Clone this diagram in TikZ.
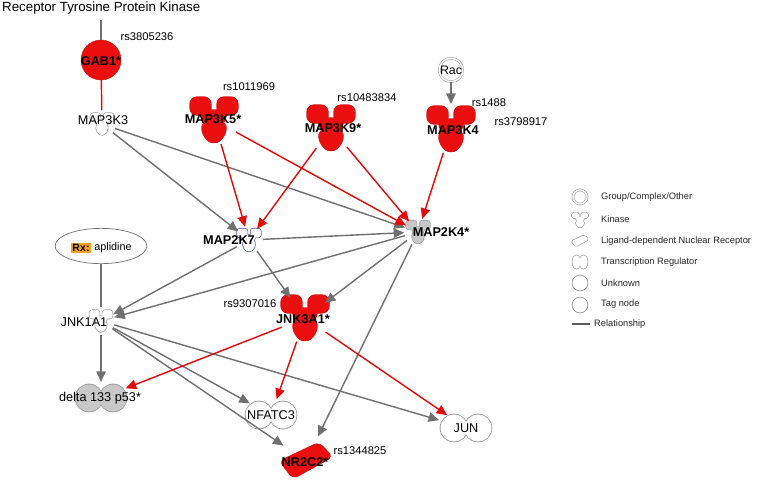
\documentclass[tikz,border=0pt]{standalone}
\usepackage{fontspec}
\setmainfont{Liberation Sans}
\usetikzlibrary{arrows.meta,shapes.geometric}

\definecolor{ipared}{RGB}{234,14,14}
\definecolor{ipadkred}{RGB}{205,20,20}
\definecolor{edgegray}{RGB}{112,112,112}
\definecolor{edgered}{RGB}{228,10,10}
\definecolor{nodegray}{RGB}{200,200,200}
\definecolor{linegray}{RGB}{150,150,150}
\definecolor{rxorange}{RGB}{247,160,30}
\definecolor{kinblue}{RGB}{70,80,160}

\tikzset{
  pics/kinase/.style n args={3}{code={
    \path[draw=#2, line width=1.1pt, rounded corners=#3]
      (-24,-23) rectangle (-3,-5) (3,-23) rectangle (24,-5)
      (-14,-10) -- (-8,8) -- (8,8) -- (14,-10) -- cycle
      (-13,2) -- (-11,17) -- (0,25) -- (11,17) -- (13,2) -- cycle;
    \path[fill=#1, rounded corners=#3]
      (-24,-23) rectangle (-3,-5) (3,-23) rectangle (24,-5)
      (-14,-10) -- (-8,8) -- (8,8) -- (14,-10) -- cycle
      (-13,2) -- (-11,17) -- (0,25) -- (11,17) -- (13,2) -- cycle;
  }},
  pics/regulator/.style n args={3}{code={
    \path[draw=#2, line width=#3] (-12,0) circle[radius=13.5] (12,0) circle[radius=13.5];
    \path[fill=#1] (-12,0) circle[radius=13.5] (12,0) circle[radius=13.5];
  }},
  pics/receptor/.style n args={3}{code={
    \path[fill=#1, draw=#2, rounded corners=#3]
      (-27,0) -- (13,-19) -- (27,-4) -- (-13,18) -- cycle;
  }},
  bigkin/.style={circle, minimum size=42pt, inner sep=0pt},
  smallkin/.style={circle, minimum size=23pt, inner sep=0pt},
  tfac/.style={ellipse, minimum width=52pt, minimum height=27pt, inner sep=0pt},
  gname/.style={font=\fontsize{10.8}{12}\selectfont, inner sep=0pt},
  bname/.style={font=\fontsize{10.8}{12}\selectfont\bfseries, inner sep=0pt},
  snp/.style={font=\fontsize{9.5}{11}\selectfont, inner sep=0pt},
  legtext/.style={font=\fontsize{7.9}{9}\selectfont, anchor=west, inner sep=0pt, text=black!85},
  legicon/.style={circle, draw=linegray, line width=0.6pt, minimum size=13.5pt, inner sep=0pt},
  act/.style={draw=edgegray, line width=1.2pt, -{Triangle[length=9pt,width=8pt]}},
  redact/.style={act, draw=edgered},
}

\begin{document}
\begin{tikzpicture}[x=0.85pt, y=-0.85pt]
\useasboundingbox (0,0) rectangle (766,484);

% upstream part
\node[anchor=west, font=\fontsize{11.3}{13}\selectfont, inner sep=0pt] (rtk) at (2,8) {Receptor Tyrosine Protein Kinase};
\coordinate (rtk-end) at (101,20);
\node[circle, fill=ipared, draw=ipadkred, minimum size=34pt, inner sep=0pt] (gab1) at (101,60) {};
\node[bname] (gab1-t) at (101,61) {GAB1*};
\node[snp] (gab1-s) at (147,37) {rs3805236};

\node[smallkin] (map3k3) at (102,124) {};
\pic[scale=0.48] at (map3k3) {kinase={white}{linegray}{2.5pt}};
\node[gname] (map3k3-t) at (103,120) {MAP3K3};

\node[bigkin] (map3k5) at (214,120) {};
\pic at (map3k5) {kinase={ipared}{ipadkred}{6pt}};
\node[bname] (map3k5-t) at (213,119) {MAP3K5*};
\node[snp] (map3k5-s) at (249,87) {rs1011969};

\node[bigkin] (map3k9) at (331,128) {};
\pic at (map3k9) {kinase={ipared}{ipadkred}{6pt}};
\node[bname] (map3k9-t) at (333,128) {MAP3K9*};
\node[snp] (map3k9-s) at (367,98) {rs10483834};

\node[circle, draw=linegray, double, double distance=1.3pt, minimum size=19pt, inner sep=0pt,
      font=\fontsize{10.5}{12}\selectfont] (rac) at (451,70) {Rac};

\node[bigkin] (map3k4) at (451,129) {};
\pic at (map3k4) {kinase={ipared}{ipadkred}{6pt}};
\node[bname] (map3k4-t) at (453,130) {MAP3K4};
\node[snp] (map3k4-s1) at (489,103) {rs1488};
\node[snp] (map3k4-s2) at (521,122) {rs3798917};

% MAP2K level
\node[smallkin] (map2k7) at (249,240) {};
\pic[scale=0.5] at (map2k7) {kinase={white}{kinblue}{2.5pt}};
\node[bname] (map2k7-t) at (229,240) {MAP2K7};

\node[smallkin] (map2k4) at (418,232) {};
\pic[scale=0.5] at (map2k4) {kinase={nodegray}{linegray}{2.5pt}};
\node[bname] (map2k4-t) at (441,232) {MAP2K4*};

% drug
\node[ellipse, draw=edgegray, line width=0.6pt, minimum width=78pt, minimum height=30pt, inner sep=0pt] (aplid) at (101,246) {};
\node[fill=rxorange, font=\fontsize{9}{10}\selectfont\bfseries, inner sep=1.2pt] (rx) at (81,248) {Rx:};
\node[font=\fontsize{9.2}{10}\selectfont, inner sep=0pt] (aplid-t) at (113,248) {aplidine};

% JNK level
\node[smallkin] (jnk1a1) at (101,321) {};
\pic[scale=0.48] at (jnk1a1) {kinase={white}{linegray}{2.5pt}};
\node[gname] (jnk1a1-t) at (84,322) {JNK1A1};

\node[bigkin] (jnk3a1) at (305,318) {};
\pic at (jnk3a1) {kinase={ipared}{ipadkred}{6pt}};
\node[bname] (jnk3a1-t) at (303,319) {JNK3A1*};
\node[snp] (jnk3a1-s) at (250,304) {rs9307016};

% targets
\node[tfac] (delta) at (101,398) {};
\pic at (delta) {regulator={nodegray}{linegray}{1.4pt}};
\node[gname] (delta-t) at (100,398) {delta 133 p53*};

\node[tfac] (nfatc3) at (271,415) {};
\pic at (nfatc3) {regulator={white}{linegray}{1.4pt}};
\node[gname] (nfatc3-t) at (271,415) {NFATC3};

\node[tfac] (jun) at (466,428) {};
\pic at (jun) {regulator={white}{linegray}{1.4pt}};
\node[gname] (jun-t) at (466,428) {JUN};

\node[circle, minimum size=46pt, inner sep=0pt] (nr2c2) at (306,461) {};
\pic at (nr2c2) {receptor={ipared}{ipadkred}{5pt}};
\node[bname] (nr2c2-t) at (305,462) {NR2C2*};
\node[snp] (nr2c2-s) at (360,451) {rs1344825};

% relationships
\draw[edgegray, line width=1.2pt] (rtk-end) -- (gab1);
\draw[edgered, line width=1.2pt] (gab1) -- (map3k3);
\draw[act] (rac) -- (map3k4);
\draw[act] (map3k3) -- (map2k7);
\draw[act] (map3k3) -- (map2k4);
\draw[redact] (map3k5) -- (map2k7);
\draw[redact] (map3k5) -- (map2k4);
\draw[redact] (map3k9) -- (map2k7);
\draw[redact] (map3k9) -- (map2k4);
\draw[redact] (map3k4) -- (map2k4);
\draw[act] (map2k7) -- (map2k4);
\draw[act] (map2k7) -- (jnk1a1);
\draw[act] (map2k7) -- (jnk3a1);
\draw[act] (map2k4) -- (jnk1a1);
\draw[act] (map2k4) -- (jnk3a1);
\draw[act] (map2k4) -- (nr2c2);
\draw[edgegray, line width=2.4pt] (aplid) -- (jnk1a1);
\draw[act] (jnk1a1) -- (delta);
\draw[act] (jnk1a1) -- (nfatc3);
\draw[act] (jnk1a1) -- (nr2c2);
\draw[act] (jnk1a1) -- (jun);
\draw[redact] (jnk3a1) -- (delta);
\draw[redact] (jnk3a1) -- (nfatc3);
\draw[redact] (jnk3a1) -- (jun);

% legend
\node[circle, draw=linegray, double, double distance=1.1pt, line width=0.5pt, minimum size=12pt, inner sep=0pt] (lg-grp) at (580,197) {};
\node[legtext] (lg-grp-t) at (601,197) {Group/Complex/Other};
\coordinate (lg-kin) at (580,220);
\pic[scale=0.33] at (lg-kin) {kinase={white}{linegray}{1.5pt}};
\node[legtext] (lg-kin-t) at (601,219) {Kinase};
\coordinate (lg-lig) at (580,241);
\pic[scale=0.34] at (lg-lig) {receptor={white}{linegray}{1.5pt}};
\node[legtext] (lg-lig-t) at (601,241) {Ligand-dependent Nuclear Receptor};
\coordinate (lg-reg) at (580,262);
\pic[xscale=0.3, yscale=0.5] at (lg-reg) {regulator={white}{linegray}{1pt}};
\node[legtext] (lg-reg-t) at (601,262) {Transcription Regulator};
\node[legicon] (lg-unk) at (580,283) {};
\node[legtext] (lg-unk-t) at (601,283) {Unknown};
\node[legicon] (lg-tag) at (580,305) {};
\node[legtext] (lg-tag-t) at (601,304) {Tag node};
\coordinate (lg-r1) at (572,324);
\coordinate (lg-r2) at (590,324);
\draw[edgegray!80!black, line width=1.5pt] (lg-r1) -- (lg-r2);
\node[legtext] (lg-rel-t) at (594,324) {Relationship};
\end{tikzpicture}
\end{document}
